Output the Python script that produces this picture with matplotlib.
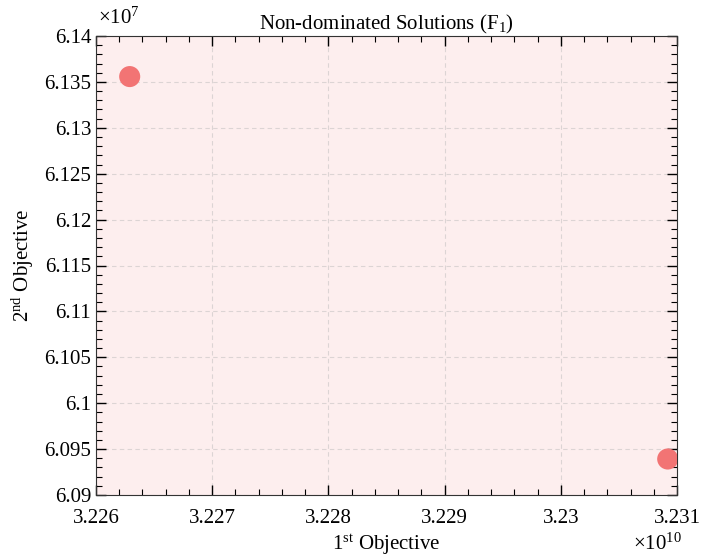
import matplotlib
matplotlib.use('Agg')
import matplotlib.pyplot as plt
from matplotlib.ticker import FuncFormatter, MultipleLocator, AutoMinorLocator

plt.rcParams['font.family'] = ['Liberation Serif', 'DejaVu Serif']
plt.rcParams['mathtext.fontset'] = 'custom'
plt.rcParams['mathtext.rm'] = 'Liberation Serif'
plt.rcParams['mathtext.it'] = 'Liberation Serif:italic'

# non-dominated solutions (objective 1, objective 2)
obj1 = [3.22629e10, 3.23092e10]
obj2 = [6.13558e7, 6.09392e7]

fig = plt.figure(figsize=(7.03, 5.59), dpi=100)
ax = fig.add_axes([96 / 703, 64 / 559, 581 / 703, 459 / 559])
ax.set_facecolor('#fdeeee')

ax.scatter(obj1, obj2, s=230, color='#f27474', zorder=3, edgecolors='none')

ax.set_xlim(3.226e10, 3.231e10)
ax.set_ylim(6.09e7, 6.14e7)
ax.xaxis.set_major_locator(MultipleLocator(1e7))
ax.yaxis.set_major_locator(MultipleLocator(5e4))
ax.xaxis.set_minor_locator(AutoMinorLocator(5))
ax.yaxis.set_minor_locator(AutoMinorLocator(5))
ax.xaxis.set_major_formatter(FuncFormatter(lambda v, p: '%g' % round(v / 1e10, 6)))
ax.yaxis.set_major_formatter(FuncFormatter(lambda v, p: '%g' % round(v / 1e7, 6)))

ax.tick_params(which='both', direction='in', top=True, right=True, labelsize=15)
ax.tick_params(which='major', length=7, width=1)
ax.tick_params(which='minor', length=4, width=0.8)
ax.tick_params(axis='x', which='major', pad=10)
ax.grid(True, which='major', linestyle=(0, (4, 3)), color='#dcd4d4', linewidth=0.8)
for sp in ax.spines.values():
    sp.set_color('#333333')

ax.set_title('Non-dominated Solutions (F$_1$)', fontsize=15, pad=5)
ax.set_xlabel('1$^{\\mathrm{st}}$ Objective', fontsize=15, labelpad=3)
ax.set_ylabel('2$^{\\mathrm{nd}}$ Objective', fontsize=15, labelpad=6)

fig.text(98 / 703, 1 - 18 / 559, '$\\times$10$^{7}$', fontsize=15, va='center', ha='left')
fig.text(682 / 703, 1 - 544 / 559, '$\\times$10$^{10}$', fontsize=15, va='center', ha='right')

fig.savefig('out.png', dpi=100)
